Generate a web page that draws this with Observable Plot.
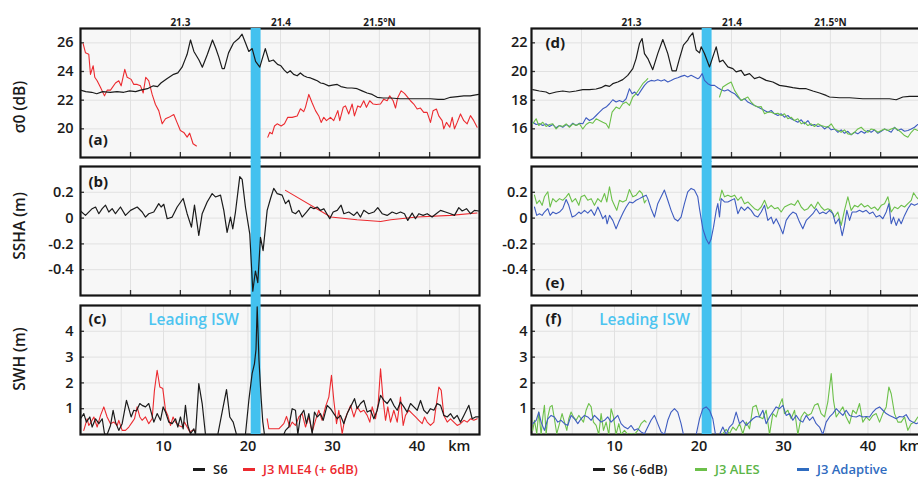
<!DOCTYPE html>
<html><head><meta charset="utf-8">
<script src="https://cdn.jsdelivr.net/npm/d3@7"></script>
<script src="https://cdn.jsdelivr.net/npm/@observablehq/plot@0.6"></script>
<style>
body{margin:0;background:#fff;}
#fig{position:relative;width:918px;height:477px;overflow:hidden;background:#fff;font-family:"Open Sans",sans-serif;font-weight:600;}
.leg{position:absolute;font-size:13px;line-height:15px;white-space:nowrap;}
.leg i{display:inline-block;width:12px;height:2.5px;vertical-align:middle;margin-right:8px;margin-top:-2px;}
</style></head><body><div id="fig"></div>
<script>
// ---------- data (km along track, value) ----------
const s6Sigma0 = [[0.18,22.7],[0.8,22.6],[1.5,22.55],[2.1,22.45],[2.8,22.6],[3.7,22.55],[4.5,22.6],[5.3,22.55],[6.0,22.65],[6.7,22.6],[7.3,22.7],[8.1,22.8],[8.8,23.0],[9.3,22.95],[9.7,23.2],[10.4,23.5],[11.2,23.8],[11.7,23.9],[12.2,24.3],[12.6,24.9],[12.8,25.2],[13.2,26.2],[13.6,25.4],[14.2,24.8],[14.6,24.3],[15.2,25.2],[15.8,26.2],[16.2,25.6],[16.55,25.0],[16.95,24.2],[17.2,24.2],[17.7,25.3],[18.3,26.0],[18.9,26.3],[19.3,26.6],[19.7,26.0],[20.1,25.4],[20.5,25.6],[20.9,24.7],[21.4,24.3],[22.05,25.6],[22.5,24.7],[23.0,24.8],[23.5,24.5],[23.9,24.4],[24.3,24.1],[24.64,23.9],[25.0,24.05],[25.4,23.8],[25.82,23.7],[26.2,23.9],[26.6,23.7],[27.0,23.6],[27.4,23.55],[27.8,23.45],[28.2,23.35],[28.6,23.2],[29.0,23.15],[29.56,23.0],[30.0,23.05],[30.56,23.1],[31.0,22.95],[31.74,22.85],[32.3,22.85],[32.92,22.8],[33.5,22.65],[34.1,22.5],[34.7,22.4],[35.29,22.2],[36.0,22.15],[36.86,22.15],[38.0,22.1],[39.23,22.1],[40.4,22.1],[41.6,22.1],[42.5,22.05],[43.17,22.05],[43.96,22.2],[44.8,22.25],[45.54,22.3],[46.3,22.3],[47.3,22.4]];
const j3Mle4Sigma0A = [[0.5,25.93],[0.77,25.3],[1.16,25.2],[1.36,23.8],[1.68,24.4],[1.87,23.6],[2.15,23.35],[2.54,22.9],[3.02,22.3],[3.34,22.7],[3.73,22.7],[4.32,23.2],[4.71,23.35],[4.99,23.0],[5.42,24.15],[5.7,23.6],[6.18,23.45],[6.49,23.1],[6.89,23.1],[7.28,23.0],[7.6,22.5],[7.9,23.6],[8.26,23.35],[8.66,22.4],[9.05,21.7],[9.44,21.27],[9.85,20.35],[10.24,20.7],[10.63,20.8],[11.22,21.0],[11.6,20.45],[12.0,19.88],[12.4,19.75],[12.8,19.42],[13.1,19.7],[13.5,18.96],[13.9,18.8]];
const j3Mle4Sigma0B = [[22.35,19.42],[22.58,19.76],[22.86,19.65],[23.14,20.2],[23.45,20.35],[23.93,20.2],[24.32,20.35],[24.71,20.8],[25.23,20.8],[25.82,20.9],[26.21,21.4],[26.6,21.2],[26.8,21.5],[27.2,22.4],[27.6,21.8],[27.99,21.27],[28.38,20.9],[28.66,20.45],[28.97,20.8],[29.29,20.57],[29.76,20.8],[30.15,20.57],[30.63,21.27],[30.86,20.57],[31.27,21.5],[31.54,21.6],[31.93,21.04],[32.33,21.73],[32.6,20.9],[32.99,21.6],[33.31,21.5],[33.7,21.96],[34.02,21.5],[34.41,21.96],[34.82,21.73],[35.2,21.7],[35.68,21.73],[36.07,22.07],[36.47,21.96],[36.78,22.3],[37.18,21.96],[37.46,21.45],[37.73,22.19],[38.13,22.65],[38.52,22.47],[38.91,22.19],[39.23,21.96],[39.62,21.73],[40.02,21.38],[40.41,21.45],[40.8,21.15],[41.2,21.15],[41.6,20.45],[41.91,21.27],[42.3,21.38],[42.58,20.9],[42.98,20.57],[43.17,20.0],[43.49,20.45],[43.88,20.11],[44.17,20.8],[44.44,20.0],[44.76,20.45],[45.15,21.04],[45.54,20.57],[45.94,20.35],[46.33,20.92],[46.72,20.57],[47.12,20.11]];

const s6Ssha = [[0.18,0.055],[0.77,0.021],[1.56,0.073],[1.96,0.086],[2.35,0.034],[2.75,0.073],[3.14,0.1],[3.53,0.047],[3.93,0.073],[4.32,0.034],[4.91,0.086],[5.5,0.021],[6.1,0.06],[6.89,0.086],[7.48,0.047],[7.87,0.008],[8.26,0.034],[8.85,0.047],[9.44,0.112],[9.72,0.086],[10.04,0.107],[10.44,-0.005],[11.03,0.008],[11.62,0.086],[12.33,0.152],[12.8,0.034],[13.31,-0.07],[13.67,0.1],[14.18,-0.135],[14.58,0.034],[15.17,0.125],[15.76,0.19],[16.15,0.164],[16.75,0.178],[17.14,0.06],[17.53,-0.11],[17.93,0.008],[18.2,-0.083],[18.52,0.047],[19.03,0.321],[19.31,0.3],[19.7,0.086],[20.21,-0.122],[20.57,-0.566],[20.88,-0.41],[21.16,-0.5],[21.48,-0.149],[21.79,-0.253],[22.27,0.06],[22.67,0.152],[23.05,0.23],[23.46,0.19],[24.04,0.178],[24.44,0.112],[24.83,0.139],[25.23,0.047],[25.62,0.034],[26.02,0.06],[26.41,0.008],[26.92,0.047],[27.4,0.086],[27.8,0.073],[28.19,0.086],[28.58,0.06],[28.98,0.073],[29.68,-0.005],[30.08,0.047],[30.56,0.06],[31.02,0.1],[31.35,0.034],[31.93,0.047],[32.53,0.021],[32.92,0.047],[33.32,0.008],[33.71,0.06],[34.3,0.034],[34.9,0.047],[35.36,0.081],[35.88,0.034],[36.47,0.021],[37.06,0.047],[37.57,0.034],[38.05,0.047],[38.52,0.034],[38.91,-0.018],[39.43,0.039],[39.82,-0.005],[40.22,0.034],[40.73,0.021],[41.21,0.034],[41.79,0.008],[42.39,0.039],[42.79,0.06],[43.37,0.047],[43.97,0.034],[44.44,0.021],[44.95,0.081],[45.35,0.055],[45.86,0.073],[46.34,0.034],[46.8,0.06],[47.32,0.055]];
const j3Mle4Ssha = [[24.44,0.215],[29.8,0.008],[32.9,-0.013],[35.7,-0.026],[36.9,-0.013],[40.0,0.008],[43.96,0.021],[47.1,0.039]];

const s6Swh = [[0.18,0.61],[0.57,0.81],[0.88,0.48],[1.28,0.68],[1.56,0.29],[1.96,0.61],[2.35,0.42],[2.75,0.61],[3.02,0.03],[3.33,0],[3.73,0.35],[4.04,0.94],[4.32,0.48],[4.71,0.16],[5.11,0.42],[5.62,1.32],[5.9,1.0],[6.17,0.68],[6.49,0.94],[6.8,0.91],[7.2,1.2],[7.47,1.13],[7.87,1.07],[8.26,1.2],[8.54,0.87],[8.86,0.48],[9.25,0.81],[9.65,0.55],[9.96,1.07],[10.24,0.87],[10.63,0.48],[11.03,0.42],[11.42,0.61],[11.7,0.29],[12.01,0.68],[12.33,0.22],[12.6,1.13],[12.88,0.35],[13.2,0.03],[13.59,0.22],[13.79,0],[14.18,1.97],[14.58,1.2],[14.97,0],[16.43,0],[16.94,0.87],[17.46,1.74],[17.85,0.68],[18.25,0.48],[18.64,0],[19.7,0],[20.1,1.32],[20.49,2.36],[20.77,2.75],[20.95,3.3],[21.09,4.95],[21.3,2.9],[21.56,1.4],[21.75,0.5],[21.95,0],[24.24,0],[24.44,0.16],[24.83,0.29],[25.23,1.0],[25.62,0.94],[25.9,0],[26.22,0.74],[26.61,0.94],[26.92,0.42],[27.2,0.81],[27.6,0.03],[27.87,0.87],[28.19,0.68],[28.58,0.81],[28.9,0.55],[29.37,1.13],[29.77,1.0],[30.16,0.81],[30.56,0.61],[30.95,0.74],[31.35,0.42],[31.74,0.81],[32.14,1.07],[32.61,1.39],[32.92,1.0],[33.32,1.2],[33.71,1.32],[34.11,0.87],[34.5,0.94],[34.9,0.61],[35.29,0.94],[35.69,1.52],[36.08,1.32],[36.47,1.2],[36.87,1.39],[37.26,1.13],[37.66,0.94],[38.05,1.26],[38.45,1.07],[38.84,0.87],[39.24,1.2],[39.63,1.07],[40.03,0.94],[40.42,1.32],[40.81,0.94],[41.21,0.81],[41.6,1.0],[42.0,0.94],[42.39,1.2],[42.79,1.13],[43.18,0.74],[43.58,0.68],[43.97,0.81],[44.36,0.61],[44.76,0.74],[45.15,0.48],[45.55,0.74],[46.14,1.13],[46.53,0.61],[46.93,0.68],[47.32,0.68]];
const j3Mle4SwhA = [[0.57,0.16],[0.97,0.61],[1.16,0.35],[1.44,0.48],[1.76,0.68],[2.15,0.29],[2.55,0.74],[2.94,1.07],[3.33,0.68],[3.73,0.42],[4.12,0.48],[4.52,0.35],[4.71,0.55],[5.11,0.16],[5.5,0.16],[5.9,0.29],[6.3,0.48],[6.57,0.61],[6.88,1.07],[7.2,0.68],[7.47,0.55],[7.87,0.68],[8.26,0.42],[8.66,0.61],[8.93,1.71],[9.25,2.49],[9.57,1.84],[9.92,1.78],[10.24,0.94],[10.51,0.74],[10.83,0.35],[11.14,0.68],[11.42,0.48],[11.81,0.35],[12.21,0.29],[12.48,0.48],[12.8,0.29],[13.12,0.1],[13.39,0.16],[13.79,0.16]];
const j3Mle4SwhB = [[22.27,0.61],[22.47,0.22],[23.65,0.22],[24.24,0.42],[24.56,0.7],[24.95,0.29],[25.23,0.48],[25.62,0.35],[26.02,0.68],[26.41,0.81],[26.81,0.29],[27.2,0.68],[27.6,0.1],[27.99,0.55],[28.38,0.94],[28.77,0.55],[29.17,1.07],[29.57,1.45],[29.88,2.29],[30.16,1.32],[30.48,0.42],[30.75,0.94],[31.15,0.03],[31.42,0.55],[31.74,0.81],[32.14,1.13],[32.53,0.68],[32.92,1.07],[33.32,0.87],[33.71,0.94],[34.11,0.74],[34.42,0.48],[34.7,1.07],[35.09,0.61],[35.41,1.2],[35.69,2.55],[36.0,1.32],[36.28,0.55],[36.55,1.07],[36.87,0.48],[37.26,0.94],[37.66,0.48],[38.05,1.45],[38.37,0.35],[38.64,0.74],[39.04,0.94],[39.43,0.81],[39.83,0.68],[40.22,0.55],[40.62,0.42],[40.89,0.68],[41.21,0.48],[41.6,0.35],[42.0,0.48],[42.31,1.2],[42.59,1.84],[42.87,1.71],[43.18,0.74],[43.58,0.48],[43.97,0.61],[44.36,0.48],[44.76,0.35],[45.15,0.42],[45.55,0.55],[45.94,0.48],[46.34,0.61],[46.73,0.55],[47.13,0.61]];

const s6Sigma0Minus6 = [[0.33,18.73],[1.12,18.64],[1.91,18.57],[2.3,18.45],[3.09,18.57],[3.88,18.64],[4.67,18.57],[5.46,18.64],[6.25,18.73],[7.04,18.73],[7.83,18.78],[8.41,18.87],[8.94,19.03],[9.41,18.96],[9.8,19.15],[10.39,19.27],[10.98,19.43],[11.57,19.73],[12.17,20.2],[12.56,20.9],[12.96,21.95],[13.27,22.3],[13.55,21.25],[13.95,20.9],[14.53,20.13],[15.12,21.25],[15.72,22.23],[16.31,21.25],[16.82,20.04],[17.3,20.04],[17.69,20.9],[18.16,21.84],[18.67,22.19],[18.88,22.42],[19.27,22.7],[19.67,21.5],[20.06,21.3],[20.26,21.72],[20.65,21.25],[21.25,20.32],[21.64,21.02],[22.04,21.72],[22.43,20.67],[22.82,20.79],[23.42,20.32],[24.01,20.2],[24.4,19.97],[24.99,20.08],[25.39,19.73],[25.98,19.85],[26.57,19.5],[27.16,19.62],[27.95,19.38],[28.74,19.27],[29.53,19.03],[30.32,18.96],[31.11,18.87],[31.9,18.8],[32.69,18.8],[33.48,18.64],[34.27,18.5],[35.05,18.33],[35.45,18.22],[36.63,18.17],[37.82,18.17],[39.39,18.1],[40.97,18.1],[42.55,18.1],[43.34,18.03],[44.13,18.22],[44.92,18.26],[45.9,18.26],[46.6,18.3],[47.3,18.3]];
const alesSigma0A = [[0.33,16.35],[0.73,16.7],[1.04,16.23],[1.52,16.46],[1.91,16.16],[2.3,16.3],[2.7,16.35],[3.09,15.99],[3.49,16.23],[3.88,16.16],[4.28,16.35],[4.67,16.11],[5.07,16.35],[5.46,16.23],[5.86,16.35],[6.25,15.99],[6.64,16.3],[7.04,16.46],[7.43,16.39],[7.83,16.7],[8.22,16.58],[8.62,16.46],[9.01,16.35],[9.33,16.04],[9.72,17.16],[10.19,17.52],[10.59,17.4],[10.98,17.75],[11.38,17.87],[11.77,17.63],[12.17,18.22],[12.56,18.45],[12.96,18.8],[13.35,19.15],[13.75,19.38],[13.94,19.5]];
const alesSigma0B = [[22.43,18.22],[22.82,18.92],[23.42,19.15],[23.81,19.27],[24.21,18.68],[24.6,18.33],[24.99,17.98],[25.39,18.1],[25.78,18.22],[26.18,17.87],[26.57,17.63],[26.97,17.52],[27.36,17.56],[27.76,17.05],[28.15,17.16],[28.55,17.16],[28.94,17.05],[29.34,17.09],[29.73,16.93],[30.12,17.05],[30.52,16.7],[30.91,16.81],[31.31,16.58],[31.7,16.7],[32.1,16.35],[32.49,16.46],[32.89,16.23],[33.28,16.35],[33.67,16.16],[34.07,16.35],[34.46,16.23],[34.86,16.16],[35.25,16.11],[35.65,16.35],[36.04,15.99],[36.44,15.88],[36.83,15.76],[37.22,15.93],[37.62,15.65],[38.01,15.6],[38.41,15.76],[38.8,15.99],[39.2,16.11],[39.59,15.88],[39.99,15.76],[40.38,15.99],[40.78,15.93],[41.17,15.76],[41.57,15.88],[41.96,15.99],[42.36,15.88],[42.75,15.99],[43.14,16.07],[43.54,15.93],[43.93,15.76],[44.33,15.53],[44.72,15.41],[45.12,15.76],[45.51,15.99],[45.9,15.88],[46.6,15.9],[47.3,15.8]];
const adaptiveSigma0 = [[0.33,16.46],[0.73,16.3],[1.12,16.35],[1.52,16.23],[1.91,16.35],[2.3,16.16],[2.7,16.3],[3.09,16.07],[3.49,16.23],[3.88,16.11],[4.28,16.3],[4.67,16.16],[5.07,16.39],[5.46,16.23],[5.86,16.39],[6.25,16.35],[6.64,16.77],[7.04,16.58],[7.43,16.7],[7.83,16.93],[8.22,17.16],[8.62,17.4],[9.01,17.52],[9.41,17.75],[9.8,18.03],[10.19,17.87],[10.59,17.98],[10.98,17.87],[11.38,18.1],[11.77,18.8],[12.09,18.45],[12.37,18.57],[12.76,18.33],[13.15,18.68],[13.55,19.03],[13.94,19.27],[14.33,19.38],[14.73,19.34],[15.12,19.43],[15.52,19.34],[15.91,19.43],[16.31,19.27],[16.7,19.38],[17.1,19.5],[17.49,19.57],[17.88,19.66],[18.28,19.73],[18.67,19.62],[19.07,19.73],[19.46,19.62],[19.86,19.5],[20.06,19.57],[20.38,19.85],[20.65,19.38],[21.05,19.15],[21.44,19.03],[21.84,19.03],[22.23,18.87],[22.63,18.73],[23.02,18.64],[23.42,18.73],[23.81,18.57],[24.21,18.45],[24.6,18.22],[24.99,17.98],[25.39,18.1],[25.78,17.87],[26.18,17.75],[26.57,17.63],[26.97,17.52],[27.36,17.4],[27.76,17.28],[28.15,17.16],[28.55,17.28],[28.94,17.05],[29.34,16.93],[29.73,17.05],[30.12,16.81],[30.52,16.93],[30.91,16.7],[31.31,16.58],[31.7,16.46],[32.1,16.63],[32.49,16.35],[32.89,16.58],[33.28,16.23],[33.67,16.3],[34.07,16.16],[34.46,16.23],[34.86,15.99],[35.25,16.16],[35.65,15.93],[36.04,15.99],[36.44,15.76],[36.83,15.93],[37.22,15.69],[37.62,15.83],[38.01,15.58],[38.41,15.76],[38.8,15.65],[39.2,15.83],[39.59,15.69],[39.99,15.88],[40.38,15.76],[40.78,15.93],[41.17,15.69],[41.57,15.83],[41.96,15.99],[42.36,15.88],[42.75,15.76],[43.14,16.11],[43.54,15.88],[43.93,15.99],[44.33,15.83],[44.72,15.88],[45.12,15.99],[45.51,16.11],[45.9,16.3],[46.6,16.4],[47.3,16.3]];

const alesSshaA = [[0.53,0.178],[0.8,0.112],[1.12,0.138],[1.44,0.099],[1.71,0.165],[2.11,0.204],[2.38,0.086],[2.7,0.151],[3.09,0.125],[3.49,0.151],[3.88,0.138],[4.28,0.165],[4.59,0.191],[4.99,0.125],[5.38,0.151],[5.78,0.099],[6.05,0.165],[6.45,0.178],[6.84,0.138],[7.24,0.151],[7.63,0.099],[8.03,0.151],[8.42,0.125],[8.82,0.191],[9.09,0.125],[9.41,0.243],[9.72,0.138],[9.99,0.099],[10.27,0.06],[10.59,0.138],[10.98,0.125],[11.38,0.138],[11.77,0.222],[12.17,0.165],[12.56,0.178],[12.96,0.212],[13.27,0.191],[13.55,0.118],[13.75,0.138]];
const alesSshaB = [[22.43,0.138],[22.71,0.217],[23.02,0.165],[23.42,0.178],[23.81,0.165],[24.21,0.178],[24.6,0.138],[24.99,0.165],[25.39,0.112],[25.78,0.125],[26.18,0.099],[26.57,0.073],[26.97,0.06],[27.36,0.086],[27.76,0.138],[28.15,0.073],[28.55,0.099],[28.94,0.073],[29.34,0.081],[29.73,0.047],[30.12,0.086],[30.52,0.099],[30.91,0.112],[31.31,0.099],[31.7,0.138],[32.1,0.086],[32.49,0.06],[32.89,0.073],[33.28,0.107],[33.67,0.073],[34.07,0.125],[34.46,0.086],[34.86,0.06],[35.25,0.073],[35.65,0.06],[36.04,0.008],[36.44,0.047],[36.83,-0.057],[37.22,0.06],[37.62,0.165],[38.01,0.06],[38.41,0.099],[38.8,0.086],[39.2,0.112],[39.59,0.086],[39.99,0.099],[40.38,0.073],[40.78,0.086],[41.17,0.06],[41.57,0.099],[41.96,0.112],[42.36,0.165],[42.75,0.047],[43.14,0.086],[43.54,0.073],[43.93,0.099],[44.33,0.086],[44.72,0.112],[45.12,0.138],[45.39,0.196],[45.71,0.165],[45.9,0.151],[46.5,0.14],[47.3,0.15]];
const adaptiveSsha = [[0.53,0.086],[0.8,0.021],[1.12,0.034],[1.44,0.021],[1.71,0.047],[2.11,0.073],[2.38,0.021],[2.7,0.047],[3.09,0.034],[3.49,0.047],[3.88,0.073],[4.28,0.144],[4.59,0.099],[4.99,0.008],[5.38,0.021],[5.78,0.047],[6.05,0.034],[6.45,0.06],[6.84,0.039],[7.24,0.065],[7.63,0.021],[8.03,0.086],[8.3,0.047],[8.62,-0.005],[8.94,0.021],[9.13,-0.044],[9.41,0.021],[9.8,-0.018],[10.19,-0.083],[10.51,-0.031],[10.78,0.008],[11.06,0.047],[11.38,0.086],[11.77,0.125],[12.17,0.118],[12.56,0.138],[12.96,0.151],[13.35,0.165],[13.75,0.178],[13.94,0.151],[14.33,0.073],[14.73,0.008],[15.12,0.112],[15.52,0.165],[15.91,0.217],[16.31,0.138],[16.7,0.06],[17.1,-0.005],[17.49,-0.023],[17.88,0.008],[18.28,0.112],[18.67,0.204],[19.07,0.23],[19.46,0.217],[19.86,0.165],[20.06,0.073],[20.46,-0.083],[20.85,-0.162],[21.17,-0.2],[21.44,-0.162],[21.72,-0.07],[22.04,0.06],[22.23,0.112],[22.43,0.008],[22.63,0.151],[23.02,0.125],[23.42,0.125],[23.81,0.138],[24.21,0.151],[24.6,0.034],[24.99,0.086],[25.39,0.06],[25.78,0.086],[26.18,0.06],[26.57,0.021],[26.97,0.008],[27.36,0.047],[27.76,0.099],[28.15,-0.018],[28.55,0.008],[28.82,-0.044],[29.14,-0.005],[29.53,-0.057],[29.93,-0.122],[30.32,-0.018],[30.72,0.021],[31.11,0.047],[31.5,0.034],[31.9,-0.031],[32.29,-0.083],[32.69,-0.018],[33.08,0.008],[33.48,0.034],[33.87,0.073],[34.27,0.034],[34.66,0.047],[35.05,0.034],[35.45,0.06],[35.84,0.034],[36.16,-0.044],[36.55,-0.005],[36.95,-0.136],[37.22,-0.057],[37.5,0.06],[37.82,-0.018],[38.13,0.047],[38.61,0.047],[39.0,0.06],[39.39,0.047],[39.79,0.06],[40.18,0.034],[40.58,0.047],[40.97,0.008],[41.37,0.021],[41.76,-0.005],[42.16,0.047],[42.47,0.112],[42.75,-0.044],[43.02,0.008],[43.34,-0.057],[43.65,-0.005],[43.93,-0.044],[44.33,0.021],[44.72,0.073],[45.12,0.112],[45.51,0.099],[45.9,0.112],[46.5,0.12],[47.3,0.13]];

const alesSwhA = [[0.33,0.16],[0.53,0.55],[0.8,0.03],[1.04,0.87],[1.32,0],[1.52,0.68],[1.71,1.13],[1.91,0],[2.11,0.68],[2.38,1.07],[2.62,1.13],[2.89,0.61],[3.17,0.03],[3.49,0.42],[3.8,0.81],[4.08,0.48],[4.36,0.16],[4.59,0.61],[4.87,0.87],[5.15,0.68],[5.46,0.55],[5.78,0.74],[6.05,0.61],[6.33,0.48],[6.64,0.94],[6.96,1.2],[7.24,1.07],[7.51,0.48],[7.83,0.35],[8.14,0],[8.42,0.81],[8.7,0.16],[9.01,0.48],[9.33,0],[9.6,1.0],[9.88,0.68],[10.19,0],[10.51,0.42],[10.78,0],[11.18,0.16],[11.57,0],[11.97,0.03],[12.36,0],[12.76,0.16],[13.15,0.42],[13.55,0.55],[13.75,0.48]];
const alesSwhB = [[22.82,0.03],[23.22,0.2],[23.61,0.03],[24.01,0.29],[24.4,0.16],[24.8,0.42],[25.19,0.03],[25.59,0.48],[25.98,0.22],[26.38,1.07],[26.77,1.13],[27.16,0.68],[27.56,0.61],[27.95,0.94],[28.35,0],[28.74,0.81],[29.14,0.68],[29.53,1.13],[29.85,1.39],[30.12,0.81],[30.52,0.94],[30.91,0.61],[31.31,0.94],[31.7,0],[32.1,0.68],[32.49,0.87],[32.89,0.74],[33.28,0.81],[33.67,1.13],[34.07,1.2],[34.46,0.81],[34.86,0.68],[35.25,1.26],[35.65,2.36],[35.92,1.32],[36.24,0.68],[36.63,0.87],[37.03,1.07],[37.42,0.68],[37.82,0.42],[38.21,0.94],[38.61,0.81],[39.0,1.2],[39.39,0.48],[39.79,0.68],[40.18,0.55],[40.58,0.74],[40.97,0.81],[41.37,0.48],[41.76,0.81],[42.16,1.07],[42.47,1.84],[42.75,1.58],[43.14,0.81],[43.54,0.48],[43.93,0.48],[44.33,0.68],[44.72,0.16],[45.12,0.42],[45.51,0.48],[45.9,0.68],[46.5,0.5],[47.2,0.6]];
const adaptiveSwh = [[0.33,0.42],[0.73,0.55],[1.04,0.87],[1.32,0.48],[1.71,0.16],[2.11,0.61],[2.5,0.74],[2.89,0.68],[3.29,0.48],[3.68,0.55],[4.08,0.42],[4.47,0.35],[4.87,0.74],[5.26,0.61],[5.66,0.42],[6.05,0.61],[6.45,0.74],[6.84,0.68],[7.24,0.55],[7.63,0.74],[8.03,0.61],[8.42,0.48],[8.82,0.55],[9.21,0.68],[9.6,0.48],[10.0,0.61],[10.39,0.74],[10.78,0.42],[11.18,0.29],[11.57,0.22],[11.97,0.35],[12.36,0.16],[12.76,0.22],[13.15,0.1],[13.55,0.03],[13.94,0.29],[14.33,0.55],[14.73,0.74],[15.12,0.42],[15.52,0.1],[15.91,0],[16.31,0.55],[16.7,0.87],[17.1,1.0],[17.49,0.87],[17.88,0.42],[18.16,0],[19.07,0],[19.67,0],[20.06,0.6],[20.46,1.0],[20.85,1.07],[21.25,0.94],[21.64,0.61],[21.95,0],[22.43,0],[22.82,0.29],[23.22,0],[23.61,0.29],[24.01,0.42],[24.4,0.87],[24.8,0.42],[25.19,0.55],[25.59,0.35],[25.98,0.48],[26.38,0.61],[26.77,0.7],[27.16,0.68],[27.56,0.94],[27.95,0.42],[28.35,0.68],[28.74,0.87],[29.14,1.07],[29.53,1.0],[29.93,1.13],[30.32,0.74],[30.72,0.81],[31.11,0.55],[31.5,0.74],[31.9,0.55],[32.29,0.48],[32.69,0.74],[33.08,0.55],[33.48,0.68],[33.87,0.42],[34.27,0.29],[34.66,0],[35.05,0.48],[35.45,0.68],[35.84,0.81],[36.24,1.0],[36.63,0.87],[37.03,0.74],[37.42,0.94],[37.82,0.74],[38.21,0.7],[38.61,0.68],[39.0,0.74],[39.39,0.68],[39.79,0.7],[40.18,0.68],[40.58,0.87],[40.97,1.0],[41.37,1.07],[41.76,0.94],[42.16,0.81],[42.55,0.74],[42.94,0.68],[43.34,0.61],[43.73,0.7],[44.13,0.68],[44.52,0.77],[44.92,0.55],[45.31,0.48],[45.71,0.42],[46.3,0.5],[47.0,0.45]];

// ---------- axes / annotations ----------
const kmDomain = [0.18, 47.4];
const iswBandKm = [20.38, 21.55];
const latTickKm = [6.1, 12.0, 17.9, 23.85, 29.65, 35.55, 41.5];
const latLabelKm = [12.0, 23.9, 35.55];
const latLabels = ["21.3", "21.4", "21.5°N"];
const kmGrid = [5, 10, 15, 20, 25, 30, 35, 40, 45];
const kmTickValues = [10, 20, 30, 40, 45];
const kmTickLabels = ["10", "20", "30", "40", "km"];
const sigmaTicksA = [20, 22, 24, 26];
const sigmaTicksD = [16, 18, 20, 22];
const sshaTicks = [-0.4, -0.2, 0, 0.2];
const sshaTickLabels = ["-0.4", "-0.2", "0", "0.2"];
const swhTicks = [1, 2, 3, 4];
const legendLeft = ["S6", "J3 MLE4 (+ 6dB)"];
const legendRight = ["S6 (-6dB)", "J3 ALES", "J3 Adaptive"];
const iswLabel = "Leading ISW";

const C = {s6: "#1b1b1b", mle4: "#ec2a2f", ales: "#6cc04a", adaptive: "#3e5cc0", band: "#43c1ef", isw: "#4cc4f0"};
const FW = 399, FH = 129;
const fig = document.getElementById("fig");

function panel(o) {
  const m = [];
  m.push(Plot.frame({fill: "#f7f7f7"}));
  m.push(Plot.gridY(o.yTicks, {stroke: "#e1e1e1", strokeOpacity: 1}));
  m.push(Plot.gridX(o.vGrid, {stroke: "#e1e1e1", strokeOpacity: 1}));
  if (o.innerTicks) m.push(Plot.tickX(o.vGrid, {insetTop: FH - 5, stroke: "#333", strokeWidth: 1.3}));
  m.push(Plot.tickY(o.yTicks, {insetRight: FW - 4, stroke: "#333", strokeWidth: 1.3}));
  m.push(Plot.frame({stroke: "#141414", strokeWidth: 2.2}));
  m.push(Plot.rect([iswBandKm], {x1: d => d[0], x2: d => d[1], fill: C.band, insetTop: o.bandTop, insetBottom: o.bandBottom}));
  for (const s of o.series) m.push(Plot.line(s.data, {x: d => d[0], y: d => d[1], stroke: s.color, strokeWidth: s.w || 1.1, clip: true}));
  const lm = o.yLabels ? new Map(o.yTicks.map((t, i) => [t, o.yLabels[i]])) : null;
  m.push(Plot.axisY(o.yTicks, {tickSize: 0, tickPadding: o.tickPad, fontSize: 14.5, fontWeight: 600, label: null, tickFormat: lm ? (d => lm.get(d)) : (d => String(d))}));
  if (o.topLabels) m.push(Plot.text(latLabelKm.map((k, i) => ({k, t: latLabels[i]})), {x: "k", text: "t", frameAnchor: "top", dy: -3, lineAnchor: "bottom", fontSize: 10, fontWeight: 700}));
  if (o.bottomAxis) {
    const km = new Map(kmTickValues.map((v, i) => [v, kmTickLabels[i]]));
    m.push(Plot.axisX(kmTickValues, {anchor: "bottom", tickSize: 0, tickPadding: 6, fontSize: 14.5, fontWeight: 600, label: null, tickFormat: d => km.get(d)}));
  }
  m.push(Plot.text([o.letter], {frameAnchor: o.letterAnchor, dx: o.letterDx, dy: o.letterDy, textAnchor: "start", lineAnchor: "middle", fontSize: 15, fontWeight: 700}));
  if (o.isw) m.push(Plot.text([iswLabel], {frameAnchor: "top-left", dx: 113, dy: 15, textAnchor: "middle", lineAnchor: "middle", fontSize: 15.5, fontWeight: 600, fill: C.isw}));
  if (o.yTitle) m.push(Plot.text([o.yTitle], {frameAnchor: "left", dx: -60, dy: o.yTitleDy, rotate: -90, textAnchor: "middle", lineAnchor: "middle", fontSize: 15.5, fontWeight: 600}));
  const svg = Plot.plot({
    width: o.ml + FW + o.mr, height: o.mt + FH + o.mb,
    marginLeft: o.ml, marginRight: o.mr, marginTop: o.mt, marginBottom: o.mb,
    x: {domain: kmDomain, axis: null},
    y: {domain: o.yDomain, axis: null},
    style: {fontFamily: '"Open Sans", sans-serif', background: "transparent", overflow: "visible", color: "#1a1a1a"},
    marks: m
  });
  svg.style.position = "absolute";
  svg.style.left = o.left + "px";
  svg.style.top = o.top + "px";
  fig.appendChild(svg);
}

const L = {left: 0, ml: 80, mr: 10, tickPad: 7, letterDx: 8};
const R = {left: 491, ml: 40, mr: 5, tickPad: 4, letterDx: 14};
const rowA = {top: 0, mt: 28, mb: 5, bandTop: 0, bandBottom: -5, innerTicks: true, vGrid: latTickKm, topLabels: true};
const rowB = {top: 161, mt: 5, mb: 5, bandTop: -5, bandBottom: -5, innerTicks: true, vGrid: latTickKm};
const rowC = {top: 300, mt: 5, mb: 40, bandTop: -5, bandBottom: 0, innerTicks: false, vGrid: kmGrid, bottomAxis: true};

panel({...L, ...rowA, yDomain: [18, 27], yTicks: sigmaTicksA, letter: "(a)", letterAnchor: "bottom-left", letterDy: -17, yTitle: "σ0 (dB)", yTitleDy: 14,
  series: [{data: j3Mle4Sigma0A, color: C.mle4}, {data: j3Mle4Sigma0B, color: C.mle4}, {data: s6Sigma0, color: C.s6, w: 1.2}]});
panel({...L, ...rowB, yDomain: [-0.6, 0.4], yTicks: sshaTicks, yLabels: sshaTickLabels, letter: "(b)", letterAnchor: "top-left", letterDy: 16, yTitle: "SSHA (m)", yTitleDy: -5,
  series: [{data: j3Mle4Ssha, color: C.mle4}, {data: s6Ssha, color: C.s6, w: 1.2}]});
panel({...L, ...rowC, yDomain: [0, 5], yTicks: swhTicks, letter: "(c)", letterAnchor: "top-left", letterDy: 14, isw: true, yTitle: "SWH (m)", yTitleDy: -11,
  series: [{data: j3Mle4SwhA, color: C.mle4}, {data: j3Mle4SwhB, color: C.mle4}, {data: s6Swh, color: C.s6, w: 1.2}]});
panel({...R, ...rowA, yDomain: [14, 23], yTicks: sigmaTicksD, letter: "(d)", letterAnchor: "top-left", letterDy: 15,
  series: [{data: s6Sigma0Minus6, color: C.s6, w: 1.2}, {data: adaptiveSigma0, color: C.adaptive}, {data: alesSigma0A, color: C.ales}, {data: alesSigma0B, color: C.ales}]});
panel({...R, ...rowB, yDomain: [-0.6, 0.4], yTicks: sshaTicks, yLabels: sshaTickLabels, letter: "(e)", letterAnchor: "bottom-left", letterDy: -12,
  series: [{data: alesSshaA, color: C.ales}, {data: alesSshaB, color: C.ales}, {data: adaptiveSsha, color: C.adaptive}]});
panel({...R, ...rowC, yDomain: [0, 5], yTicks: swhTicks, letter: "(f)", letterAnchor: "top-left", letterDy: 14, isw: true,
  series: [{data: alesSwhA, color: C.ales}, {data: alesSwhB, color: C.ales}, {data: adaptiveSwh, color: C.adaptive}]});

// legends
const legendItems = [
  {x: 193, color: C.s6, text: C.s6, label: legendLeft[0]},
  {x: 243, color: C.mle4, text: C.mle4, label: legendLeft[1]},
  {x: 593, color: C.s6, text: C.s6, label: legendRight[0]},
  {x: 695, color: C.ales, text: "#5cb548", label: legendRight[1]},
  {x: 797, color: "#2f6cc0", text: "#2f6cc0", label: legendRight[2]}
];
for (const it of legendItems) {
  const d = document.createElement("div");
  d.className = "leg";
  d.style.left = it.x + "px";
  d.style.top = "462px";
  d.style.color = it.text;
  d.innerHTML = `<i style="background:${it.color}"></i>`;
  d.appendChild(document.createTextNode(it.label));
  fig.appendChild(d);
}
</script></body></html>
